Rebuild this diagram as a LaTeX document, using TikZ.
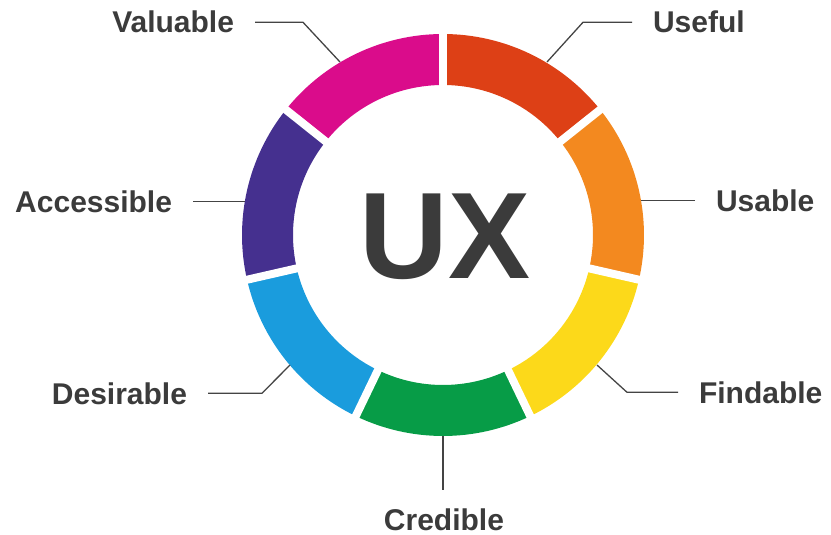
\documentclass[tikz,border=0pt]{standalone}
\usepackage{fontspec}
\setmainfont{Liberation Sans}
\definecolor{cUseful}{HTML}{DD4016}
\definecolor{cUsable}{HTML}{F3891F}
\definecolor{cFindable}{HTML}{FCD91A}
\definecolor{cCredible}{HTML}{079C47}
\definecolor{cDesirable}{HTML}{1A9CDD}
\definecolor{cAccessible}{HTML}{45308F}
\definecolor{cValuable}{HTML}{DA0C8B}
\definecolor{txt}{HTML}{3B3B3B}
\definecolor{lead}{HTML}{444444}
\begin{document}
\begin{tikzpicture}[x=1pt,y=1pt,
  lbl/.style={font=\fontsize{30}{36}\selectfont\bfseries, text=txt, inner sep=0pt, outer xsep=21pt},
  leader/.style={draw=lead, line width=1.3pt, line join=miter},
  gapline/.style={draw=white, line width=8pt}]
\useasboundingbox (0,0) rectangle (831,-535);
\coordinate (C) at (443,-235);
% ring segments
\begin{scope}[shift={(443,-235)}]
\foreach \c [count=\i from 0] in {cUseful,cUsable,cFindable,cCredible,cDesirable,cAccessible,cValuable}{
  \pgfmathsetmacro\aS{90-\i*51.428571}
  \pgfmathsetmacro\aE{90-(\i+1)*51.428571}
  \fill[\c] (\aS:201) arc[start angle=\aS, end angle=\aE, radius=201]
     -- (\aE:150) arc[start angle=\aE, end angle=\aS, radius=150] -- cycle;
}
\foreach \i in {0,...,6}{
  \pgfmathsetmacro\aG{90-\i*51.428571}
  \draw[gapline] (\aG:140) -- (\aG:210);
}
\end{scope}
% centre text
\node[font=\fontsize{123}{130}\selectfont\bfseries, text=txt, inner sep=0pt, anchor=base] (ux) at (445,-278) {UX};
% labels
\node[lbl, anchor=base east] (nV) at (255,-33) {Valuable};
\node[lbl, anchor=base west] (nU) at (632,-33) {Useful};
\node[lbl, anchor=base east] (nA) at (193,-212) {Accessible};
\node[lbl, anchor=base west] (nUs) at (695,-211) {Usable};
\node[lbl, anchor=base east] (nD) at (208,-404) {Desirable};
\node[lbl, anchor=base west] (nF) at (678,-403) {Findable};
\node[lbl, outer xsep=0pt, outer ysep=18pt, anchor=base] (nC) at (444,-530) {Credible};
% elbow and ring coordinates
\coordinate (xV) at (303,0);  \coordinate (pV) at (340,-62);
\coordinate (xU) at (583,0);  \coordinate (pU) at (547,-62);
\coordinate (xA) at (245,0);
\coordinate (xUs) at (641,0);
\coordinate (xD) at (262,0);  \coordinate (pD) at (290,-365);
\coordinate (xF) at (627,0);  \coordinate (pF) at (597,-365);
\coordinate (pC) at (443,-436);
\coordinate (kV) at (nV.east -| xV);
\coordinate (kU) at (nU.west -| xU);
\coordinate (pA) at (nA.east -| xA);
\coordinate (pUs) at (nUs.west -| xUs);
\coordinate (kD) at (nD.east -| xD);
\coordinate (kF) at (nF.west -| xF);
% connectors
\draw[leader] (nV.east) -- (kV) -- (pV);
\draw[leader] (nU.west) -- (kU) -- (pU);
\draw[leader] (nA.east) -- (pA);
\draw[leader] (nUs.west) -- (pUs);
\draw[leader] (nD.east) -- (kD) -- (pD);
\draw[leader] (nF.west) -- (kF) -- (pF);
\draw[leader] (pC) -- (pC |- nC.north);
\end{tikzpicture}
\end{document}
